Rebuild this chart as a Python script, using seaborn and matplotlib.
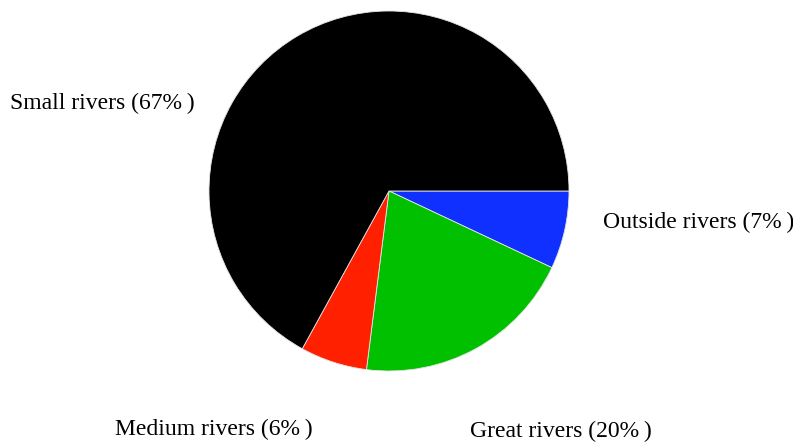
import matplotlib
matplotlib.use("Agg")
import matplotlib.pyplot as plt
import seaborn as sns

# data
categories = ["Outside rivers", "Great rivers", "Medium rivers", "Small rivers"]
shares = [7, 20, 6, 67]
colors = ["#1030ff", "#00c000", "#ff2000", "#000000"]

sns.set_theme(style="white")
plt.rcParams['font.family'] = ['Liberation Serif', 'DejaVu Serif']

W, H = 793, 444
fig = plt.figure(figsize=(W / 100, H / 100), dpi=100)

# pie centre and radius in pixels
cx, cy, r = 389, 191, 180
ax = fig.add_axes([(cx - r) / W, (H - cy - r) / H, 2 * r / W, 2 * r / H])
ax.pie(shares, colors=colors, startangle=0, counterclock=False,
       wedgeprops=dict(edgecolor="#e4e4e4", linewidth=0.6))
ax.set_xlim(-1, 1)
ax.set_ylim(-1, 1)
ax.axis('off')

# label positions (left edge, vertical centre) in pixels
label_pos = {
    "Small rivers": (10, 103),
    "Outside rivers": (603, 222),
    "Medium rivers": (115, 429),
    "Great rivers": (470, 431),
}
for name, val in zip(categories, shares):
    x, y = label_pos[name]
    fig.text(x / W, 1 - y / H, f"{name} ({val}%\u2009)", ha='left', va='center',
             fontsize=17, color='black')

fig.savefig("out.png", dpi=100)
